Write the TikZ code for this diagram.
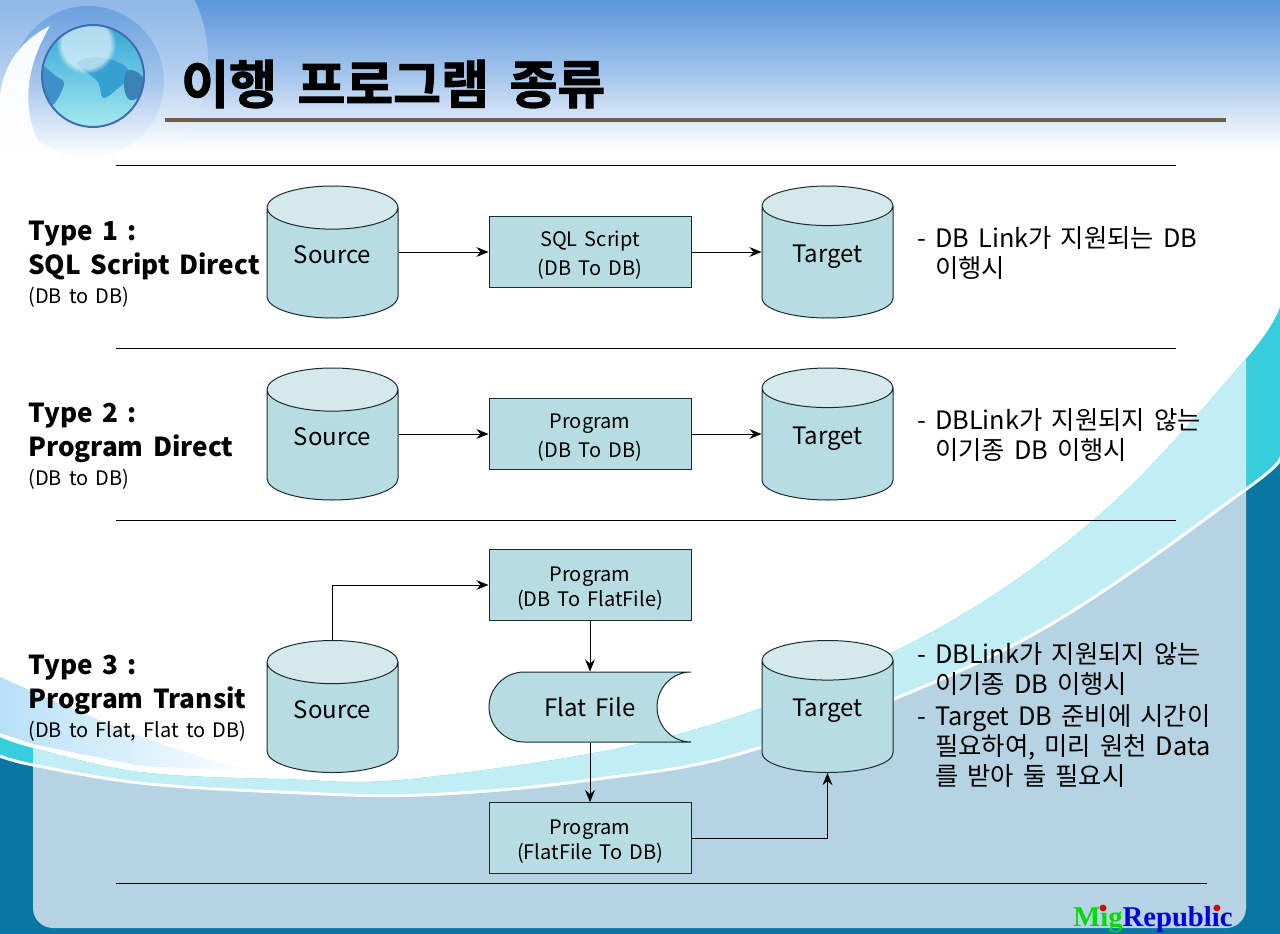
\documentclass[tikz,border=0pt]{standalone}
\usepackage{fontspec}
\setmainfont[WordSpace=1.6]{Noto Sans CJK KR}
\newfontfamily\titlefont[WordSpace=1.75,FakeBold=2]{Noto Sans CJK KR Bold}
\newfontfamily\markfont{Liberation Serif}
\usetikzlibrary{arrows.meta,calc,fadings,positioning,shapes.geometric}
\definecolor{Sky}{HTML}{5A96DC}
\definecolor{Deep}{HTML}{0A76A4}
\definecolor{Panel}{HTML}{B5D3E2}
\definecolor{Band}{HTML}{C0EEF4}
\definecolor{Wave}{HTML}{36CDDC}
\definecolor{Wedge}{HTML}{B8E0F8}
\definecolor{Rule}{HTML}{6E5D4B}
\definecolor{Cell}{HTML}{B7DDE2}
\definecolor{CellTop}{HTML}{D5E9ED}
\definecolor{Edge}{HTML}{1A2A30}
\definecolor{Land}{HTML}{3F8FCB}
\definecolor{Rim}{HTML}{3B6FB0}
\newcommand{\boxstrut}{\rule{0pt}{16pt}}
\tikzset{
  flowarrow/.style={-{Stealth[length=3.2mm,width=2.6mm,inset=1.1mm]},line width=0.75pt,draw=black},
  sectionrule/.style={line width=0.75pt,draw=black},
  dbcyl/.style={cylinder,shape border rotate=90,aspect=0.5,anchor=shape center,draw=Edge,line width=0.75pt,
    minimum width=98.25pt,minimum height=99pt,cylinder uses custom fill,text depth=18.5pt,
    cylinder body fill=Cell,cylinder end fill=CellTop,font=\fontsize{18}{22}\selectfont},
  stepbox/.style={rectangle,draw=Edge,fill=Cell,line width=0.75pt,minimum width=151.5pt,
    minimum height=53pt,align=center,inner sep=0pt,font=\fontsize{15}{21.5}\selectfont},
  tightbox/.style={stepbox,font=\fontsize{15}{19}\selectfont},
  typehead/.style={anchor=north west,align=left,inner sep=0pt,font=\fontsize{19.6}{25}\selectfont\bfseries},
  typesub/.style={anchor=north west,inner sep=0pt,font=\fontsize{15}{18}\selectfont},
  notetext/.style={anchor=north west,align=left,inner sep=0pt,font=\fontsize{19}{22.5}\selectfont},
}

\begin{document}
\begin{tikzpicture}[x=0.75pt,y=-0.75pt]
  \useasboundingbox (0,0) rectangle (1280,934);
  \begin{scope}
    \clip (0,0) rectangle (1280,934);
    % header and swirl
    \fill[white] (0,0) rectangle (1280,934);
    \shade[top color=Sky,bottom color=white,middle color=Sky!55] (0,0) rectangle (1280,150);
    \fill[white,opacity=0.45,path fading=south] (68,60) circle (140);
    \shade[top color=Sky!90,bottom color=white,middle color=Sky!55] (88,82) circle (76);
    \fill[white,opacity=0.95] (50,26) .. controls (20,40) and (0,70) .. (0,100)
      -- (0,165) -- (57,170) .. controls (30,140) and (12,90) .. (50,26) -- cycle;
    % waves
    \shade[left color=Wedge,right color=white] (0,677) .. controls (80,712) and (160,750) .. (260,772)
      -- (140,766) -- (33,744) -- (0,733) -- cycle;
    \fill[Wave] plot[smooth,tension=0.6] coordinates {(0,737) (33,748) (140,772) (280,779) (420,778) (683,733) (917,640) (1097,517) (1245,360) (1280,307)}
      -- (1280,934) -- (0,934) -- cycle;
    \begin{scope}
      \clip (33,0) rectangle (1246,934);
      \fill[Band] plot[smooth,tension=0.6] coordinates {(0,737) (33,748) (140,772) (280,779) (420,778) (683,733) (917,640) (1097,517) (1245,360) (1280,307)}
        -- (1280,934) -- (0,934) -- cycle;
    \end{scope}
    \fill[Deep] plot[smooth,tension=0.6] coordinates {(0,756) (33,765) (140,783) (280,792) (420,795) (590,780) (762,747) (1023,640) (1245,490) (1280,457)}
      -- (1280,934) -- (0,934) -- cycle;
    \begin{scope}
      \clip plot[smooth,tension=0.6] coordinates {(0,756) (33,765) (140,783) (280,792) (420,795) (590,780) (762,747) (1023,640) (1245,490) (1280,457)}
        -- (1280,934) -- (0,934) -- cycle;
      \fill[Panel,rounded corners=15pt] (33,400) rectangle (1246,928);
    \end{scope}
    \draw[white,line width=2.2pt] plot[smooth,tension=0.6] coordinates {(0,756) (33,765) (140,783) (280,792) (420,795) (590,780) (762,747) (1023,640) (1245,490) (1280,457)};
    % globe
    \begin{scope}
      \clip (93,76) circle (51);
      \shade[top color=Land!80!cyan,bottom color=Wave!45!white] (93,76) circle (51);
      \fill[Land!85!cyan] plot[smooth cycle,tension=0.6] coordinates {(77,62) (100,57) (125,66) (128,78) (116,90) (103,98) (98,82) (85,71)};
      \fill[Land] plot[smooth cycle,tension=0.6] coordinates {(38,64) (56,76) (64,84) (54,104) (46,100) (38,86)};
      \fill[Land!90!black] plot[smooth cycle,tension=0.6] coordinates {(128,70) (142,76) (146,92) (130,100) (124,86)};
      \fill[white,path fading=circle with fuzzy edge 20 percent,opacity=0.6] (86,44) circle (30);
    \end{scope}
    \draw[Rim,line width=1.5pt] (93,76) circle (51);
  \end{scope}

  % title
  \node[anchor=west,inner sep=0pt,font=\fontsize{39}{46}\titlefont] (title) at (181,84) {이행 프로그램 종류};
  \draw[Rule,line width=3pt] (165,120) -- (1226,120);

  \draw[sectionrule] (116,166) -- (1176,166);
  \draw[sectionrule] (116,348) -- (1176,348);
  \draw[sectionrule] (116,520) -- (1176,520);
  \draw[sectionrule] (116,883) -- (1207,883);

  % row 1
  \node[typehead] (head1) at (28,221) {Type 1 :\\SQL Script Direct};
  \node[typesub] (sub1) at (28,287) {(DB to DB)};
  \node[dbcyl] (src1) at (332.5,252) {Source};
  \node[stepbox] (box1) at (590,252) {\boxstrut SQL Script\\(DB To DB)};
  \node[dbcyl] (tgt1) at (827.5,252) {Target};
  \draw[flowarrow] (src1.shape center -| src1.east) -- (box1.west);
  \draw[flowarrow] (box1.east) -- (box1.east -| tgt1.west);
  \node[notetext] (note1) at (917,226) {- DB Link가 지원되는 DB\\\phantom{- }이행시};

  % row 2
  \node[typehead] (head2) at (28,403) {Type 2 :\\Program Direct};
  \node[typesub] (sub2) at (28,469) {(DB to DB)};
  \node[dbcyl] (src2) at (332.5,434) {Source};
  \node[stepbox] (box2) at (590,434) {\boxstrut Program\\(DB To DB)};
  \node[dbcyl] (tgt2) at (827.5,434) {Target};
  \draw[flowarrow] (src2.shape center -| src2.east) -- (box2.west);
  \draw[flowarrow] (box2.east) -- (box2.east -| tgt2.west);
  \node[notetext] (note2) at (917,408) {- DBLink가 지원되지 않는\\\phantom{- }이기종 DB 이행시};

  % row 3
  \node[typehead] (head3) at (28,655) {Type 3 :\\Program Transit};
  \node[typesub] (sub3) at (28,721) {(DB to Flat, Flat to DB)};
  \node[dbcyl] (src3) at (332.5,706.5) {Source};
  \node[tightbox] (box3) at (590,585) {\boxstrut Program\\(DB To FlatFile)};
  \draw[draw=Edge,fill=Cell,line width=0.75pt] (691,672) -- (524,672)
    .. controls (505,672) and (489,688) .. (489,707)
    .. controls (489,726) and (505,742) .. (524,742) -- (691,742)
    .. controls (672,742) and (657,726) .. (657,707)
    .. controls (657,688) and (672,672) .. (691,672) -- cycle
    node[minimum width=151.5pt,minimum height=52.5pt,inner sep=0pt,font=\fontsize{18}{22}\selectfont] (flat3) at (590,707) {Flat File};
  \node[tightbox] (box4) at (590,838) {\boxstrut Program\\(FlatFile To DB)};
  \node[dbcyl] (tgt3) at (827.5,706.5) {Target};
  \draw[flowarrow] (src3.north) |- (box3.west);
  \draw[flowarrow] (box3.south) -- (flat3.north);
  \draw[flowarrow] (flat3.south) -- (box4.north);
  \draw[flowarrow] (box4.east) -| (tgt3.south);
  \node[notetext] (note3) at (917,642) {- DBLink가 지원되지 않는\\\phantom{- }이기종 DB 이행시};
  \node[notetext] (note4) at (917,704) {- Target DB 준비에 시간이\\\phantom{- }필요하여, 미리 원천 Data\\\phantom{- }를 받아 둘 필요시};

  % watermark
  \node[anchor=base west,inner sep=0pt,font=\fontsize{21.5}{26}\markfont\bfseries] (brand) at (1073,926) {\textcolor{green!85!black}{Mig}\textcolor{blue!85!black}{Republic}};
  \fill[red!85!black] (1103,908) circle (3.4) (1217,908) circle (3.4);
\end{tikzpicture}
\end{document}
